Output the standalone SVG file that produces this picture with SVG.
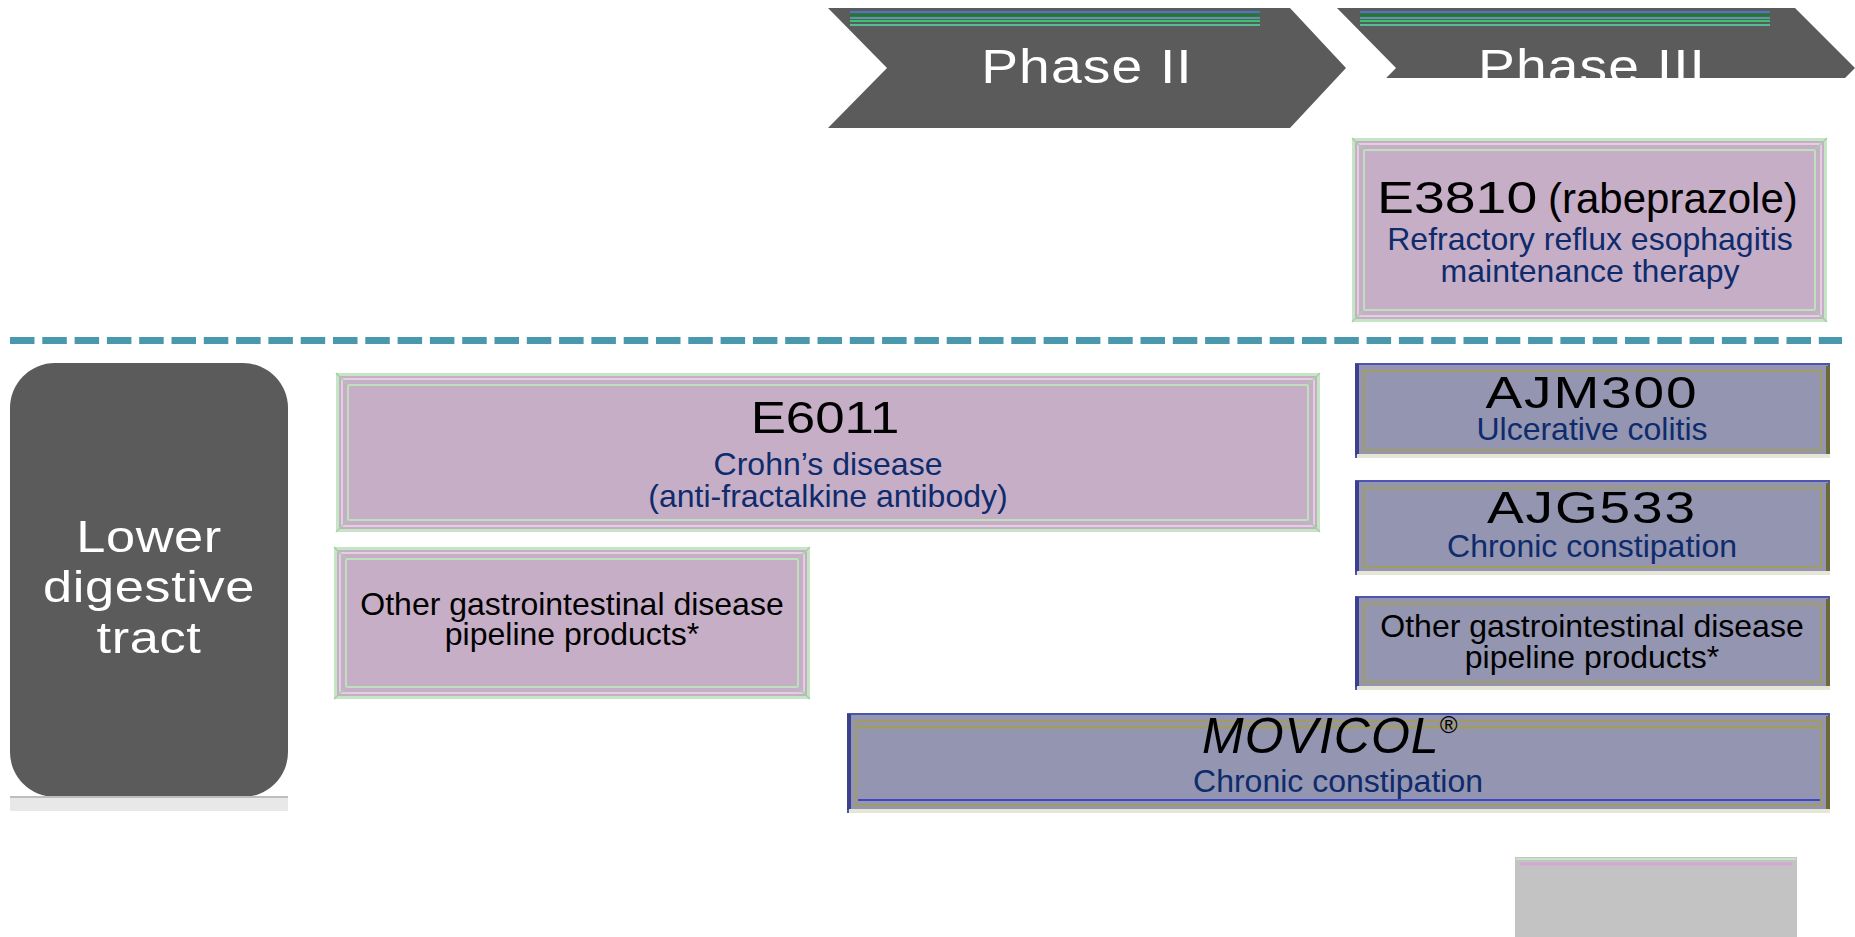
<svg xmlns="http://www.w3.org/2000/svg" width="1855" height="937" viewBox="0 0 1855 937">
<defs>
<style>
.phase{fill:#5B5B5B}
.phtxt{font-family:"Liberation Sans",Arial,sans-serif;font-size:48px;fill:#FFFFFF;text-anchor:middle;letter-spacing:1px}
.pk{fill:#C6AEC7}
.pkA{fill:none;stroke:#C4E6C2;stroke-width:3}
.pkB{fill:none;stroke:#E2CFE2;stroke-width:2}
.pkC{fill:none;stroke:#BEE0BC;stroke-width:2}
.pkD{stroke:#A9CBA9;stroke-width:1.5}
.sl{fill:#9395B1}
.slA{fill:none;stroke:#4E55B0;stroke-width:2}
.slB{fill:none;stroke:#A29C62;stroke-width:2}
.slL{stroke:#3C418F;stroke-width:4}
.slR{stroke:#6C693A;stroke-width:4}
.slBot{stroke:#E6E6D6;stroke-width:4}
.wide{font-family:"Liberation Sans",Arial,sans-serif;font-size:44px;fill:#000000;text-anchor:middle}
.sub{font-family:"Liberation Sans",Arial,sans-serif;font-size:32px;fill:#0E2B6C;text-anchor:middle}
.blk{font-family:"Liberation Sans",Arial,sans-serif;font-size:32px;fill:#000000;text-anchor:middle}
.stripe{stroke-width:2}
</style>
<clipPath id="clip3"><rect x="1300" y="0" width="555" height="78"/></clipPath>
</defs>

<g id="phase2">
<polygon class="phase" points="828,8 1290,8 1346,68 1290,128 828,128 887,68"/>
<g opacity="0.9">
<line class="stripe" x1="850" y1="12" x2="1260" y2="12" stroke="#3F7FD0"/>
<line class="stripe" x1="850" y1="15" x2="1260" y2="15" stroke="#1F7A2E"/>
<line class="stripe" x1="850" y1="18" x2="1260" y2="18" stroke="#3FB0A0"/>
<line class="stripe" x1="850" y1="21" x2="1260" y2="21" stroke="#3FCB70"/>
<line class="stripe" x1="850" y1="25" x2="1260" y2="25" stroke="#50C8A0"/>
</g>
<text class="phtxt" transform="translate(1087,83) scale(1.15,1)" x="0" y="0">Phase II</text>
</g>

<g id="phase3" clip-path="url(#clip3)">
<polygon class="phase" points="1337,8 1795,8 1855,68 1795,128 1337,128 1396,68"/>
<g opacity="0.9">
<line class="stripe" x1="1360" y1="12" x2="1770" y2="12" stroke="#3F7FD0"/>
<line class="stripe" x1="1360" y1="15" x2="1770" y2="15" stroke="#1F7A2E"/>
<line class="stripe" x1="1360" y1="18" x2="1770" y2="18" stroke="#3FB0A0"/>
<line class="stripe" x1="1360" y1="21" x2="1770" y2="21" stroke="#3FCB70"/>
<line class="stripe" x1="1360" y1="25" x2="1770" y2="25" stroke="#50C8A0"/>
</g>
<text class="phtxt" transform="translate(1592,83) scale(1.15,1)" x="0" y="0">Phase III</text>
</g>

<g id="separator">
<line x1="10" y1="340.5" x2="1842" y2="340.5" stroke="#4A98AE" stroke-width="7" stroke-dasharray="24.5 7.8"/>
</g>

<g id="lower-digestive-tract">
<rect x="10" y="363" width="278" height="434" rx="45" ry="45" fill="#5B5B5B"/>
<rect x="10" y="797" width="278" height="14" fill="#E8E8E8"/>
<line x1="10" y1="797" x2="288" y2="797" stroke="#BDBDBD" stroke-width="2"/>
<g font-family="'Liberation Sans',Arial,sans-serif" font-size="44" fill="#FFFFFF" text-anchor="middle" letter-spacing="0.5">
<text transform="translate(149,552) scale(1.19,1)" x="0" y="0">Lower</text>
<text transform="translate(149,602) scale(1.19,1)" x="0" y="0">digestive</text>
<text transform="translate(149,653) scale(1.19,1)" x="0" y="0">tract</text>
</g>
</g>

<g id="e3810">
<rect class="pk" x="1352" y="138" width="475" height="184"/>
<rect class="pkA" x="1353.5" y="139.5" width="472" height="181"/>
<rect class="pkB" x="1358" y="144" width="463" height="172"/>
<rect class="pkC" x="1364" y="150" width="451" height="160"/>
<line class="pkD" x1="1352" y1="138" x2="1364" y2="150"/>
<line class="pkD" x1="1827" y1="138" x2="1815" y2="150"/>
<line class="pkD" x1="1352" y1="322" x2="1364" y2="310"/>
<line class="pkD" x1="1827" y1="322" x2="1815" y2="310"/>
<text font-family="'Liberation Sans',Arial,sans-serif" font-size="44" fill="#000000" transform="translate(1377,213) scale(1.26,1)" x="0" y="0">E3810</text>
<text font-family="'Liberation Sans',Arial,sans-serif" font-size="42" fill="#000000" x="1548" y="213">(rabeprazole)</text>
<text class="sub" x="1590" y="250">Refractory reflux esophagitis</text>
<text class="sub" x="1590" y="282">maintenance therapy</text>
</g>

<g id="e6011">
<rect class="pk" x="336" y="373" width="984" height="159"/>
<rect class="pkA" x="337.5" y="374.5" width="981" height="156"/>
<rect class="pkB" x="342" y="379" width="972" height="147"/>
<rect class="pkC" x="348" y="385" width="960" height="135"/>
<line class="pkD" x1="336" y1="373" x2="348" y2="385"/>
<line class="pkD" x1="1320" y1="373" x2="1308" y2="385"/>
<line class="pkD" x1="336" y1="532" x2="348" y2="520"/>
<line class="pkD" x1="1320" y1="532" x2="1308" y2="520"/>
<text class="wide" transform="translate(825,433) scale(1.2,1)" x="0" y="0">E6011</text>
<text class="sub" x="828" y="475">Crohn’s disease</text>
<text class="sub" x="828" y="507">(anti-fractalkine antibody)</text>
</g>

<g id="other-gi-phase2">
<rect class="pk" x="334" y="547" width="476" height="152"/>
<rect class="pkA" x="335.5" y="548.5" width="473" height="149"/>
<rect class="pkB" x="340" y="553" width="464" height="140"/>
<rect class="pkC" x="346" y="559" width="452" height="128"/>
<line class="pkD" x1="334" y1="547" x2="346" y2="559"/>
<line class="pkD" x1="810" y1="547" x2="798" y2="559"/>
<line class="pkD" x1="334" y1="699" x2="346" y2="687"/>
<line class="pkD" x1="810" y1="699" x2="798" y2="687"/>
<text class="blk" x="572" y="615">Other gastrointestinal disease</text>
<text class="blk" x="572" y="645">pipeline products*</text>
</g>

<g id="ajm300">
<rect class="sl" x="1355" y="363" width="475" height="95"/>
<rect class="slA" x="1356" y="364" width="473" height="93"/>
<rect class="slB" x="1364" y="371" width="457" height="79"/>
<line class="slL" x1="1357" y1="364" x2="1357" y2="455"/>
<line class="slR" x1="1828" y1="366" x2="1828" y2="456"/>
<line class="slBot" x1="1357" y1="456" x2="1830" y2="456"/>
<text class="wide" transform="translate(1592,408) scale(1.25,1)" x="0" y="0" letter-spacing="1.5">AJM300</text>
<text class="sub" x="1592" y="440">Ulcerative colitis</text>
</g>

<g id="ajg533">
<rect class="sl" x="1355" y="480" width="475" height="95"/>
<rect class="slA" x="1356" y="481" width="473" height="93"/>
<rect class="slB" x="1364" y="488" width="457" height="79"/>
<line class="slL" x1="1357" y1="481" x2="1357" y2="572"/>
<line class="slR" x1="1828" y1="483" x2="1828" y2="573"/>
<line class="slBot" x1="1357" y1="573" x2="1830" y2="573"/>
<text class="wide" transform="translate(1592,523) scale(1.25,1)" x="0" y="0" letter-spacing="1.5">AJG533</text>
<text class="sub" x="1592" y="557">Chronic constipation</text>
</g>

<g id="other-gi-phase3">
<rect class="sl" x="1355" y="596" width="475" height="94"/>
<rect class="slA" x="1356" y="597" width="473" height="92"/>
<rect class="slB" x="1364" y="604" width="457" height="78"/>
<line class="slL" x1="1357" y1="597" x2="1357" y2="687"/>
<line class="slR" x1="1828" y1="599" x2="1828" y2="688"/>
<line class="slBot" x1="1357" y1="688" x2="1830" y2="688"/>
<text class="blk" x="1592" y="637">Other gastrointestinal disease</text>
<text class="blk" x="1592" y="668">pipeline products*</text>
</g>

<g id="movicol">
<rect class="sl" x="847" y="713" width="983" height="100"/>
<rect class="slA" x="848" y="714" width="981" height="98"/>
<rect class="slB" x="856" y="721" width="965" height="84"/>
<line x1="858" y1="727" x2="1820" y2="727" stroke="#A29C62" stroke-width="3"/>
<line x1="858" y1="800" x2="1820" y2="800" stroke="#3C46C8" stroke-width="2"/>
<line class="slL" x1="849" y1="714" x2="849" y2="810"/>
<line class="slR" x1="1828" y1="716" x2="1828" y2="811"/>
<line class="slBot" x1="849" y1="811" x2="1830" y2="811"/>
<text font-family="'Liberation Sans',Arial,sans-serif" font-style="italic" fill="#000000" x="1202" y="753"><tspan font-size="50" letter-spacing="1">MOVICOL</tspan><tspan font-size="24" dy="-20">®</tspan></text>
<text class="sub" x="1338" y="792">Chronic constipation</text>
</g>

<g id="gray-box">
<rect x="1515" y="857" width="282" height="80" fill="#C3C3C3"/>
<line x1="1516" y1="859" x2="1796" y2="859" stroke="#C8E4C4" stroke-width="2"/>
<line x1="1520" y1="864" x2="1792" y2="864" stroke="#D2A8D4" stroke-width="3"/>
</g>

<g id="connectors"></g>
</svg>
